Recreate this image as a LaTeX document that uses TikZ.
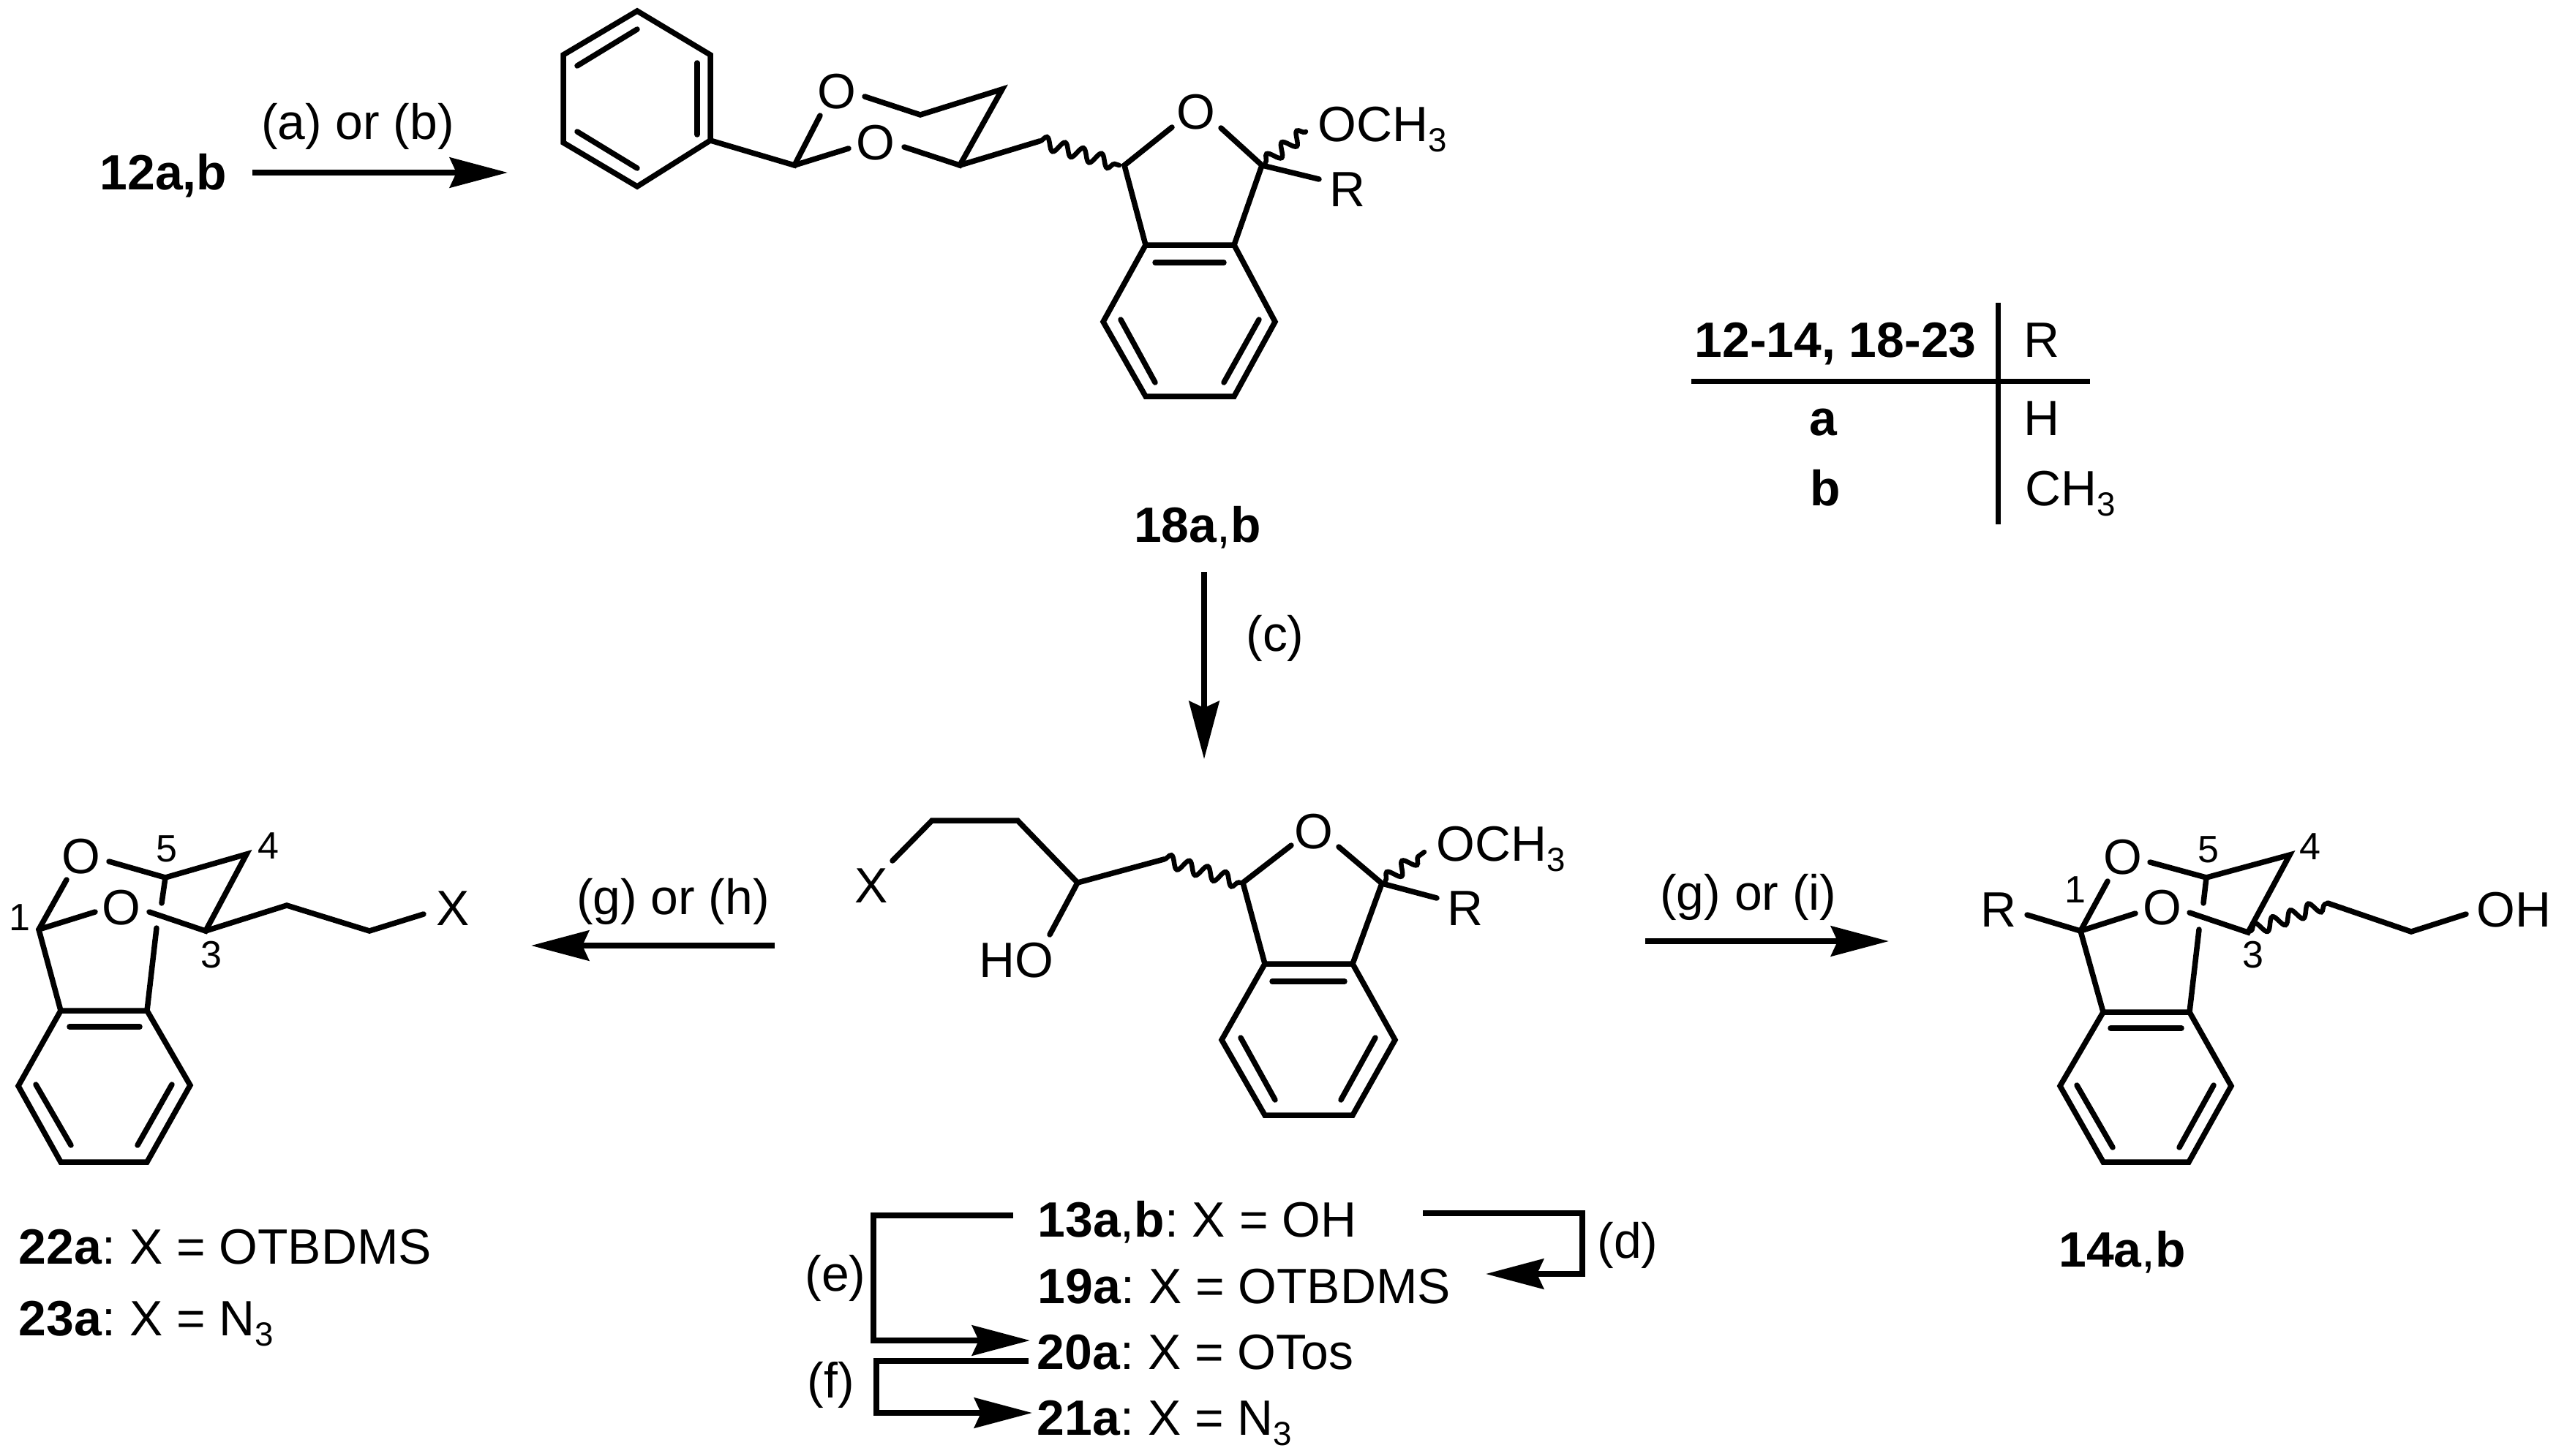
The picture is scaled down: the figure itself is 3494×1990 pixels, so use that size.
\documentclass[tikz,border=0pt]{standalone}
\usepackage{fontspec}
\setmainfont{Liberation Sans}
\usetikzlibrary{arrows.meta,decorations.pathmorphing}
\frenchspacing
\newcommand{\subthree}{\raisebox{-0.14cm}{\fontsize{13}{13}\selectfont 3}}
\tikzset{
    bond/.style={line width=0.075cm, line cap=round, line join=miter},
    wavy/.style={line width=0.065cm, line cap=round, decorate, decoration={snake, segment length=0.26cm, amplitude=0.085cm}},
    rxn/.style={line width=0.08cm, line join=miter, -{Stealth[length=0.79cm, width=0.41cm, inset=0.09cm]}},
    rule/.style={line width=0.07cm},
    txt/.style={anchor=base west},
    ctr/.style={anchor=base},
    num/.style={font=\fontsize{14.8}{16}\selectfont}
}
\begin{document}
\begin{tikzpicture}[x=0.01cm, y=-0.01cm, every node/.style={inner sep=0pt, font=\fontsize{19.3}{23}\selectfont}]
    \useasboundingbox (0, 0) rectangle (3494, 1990);

    \node[txt] (start) at (136, 259) {\textbf{12a,b}};
    \coordinate (abS) at (345, 236);
    \coordinate (abE) at (694, 236);
    \draw[rxn] (abS) -- (abE);
    \node (abL) at (489, 173) {(a) or (b)};

    \draw[bond] (770, 75) -- (871, 15) -- (971, 75) -- (971, 192) -- (871, 255) -- (770, 195) -- cycle;
    \draw[bond] (789, 90) -- (871, 40);
    \draw[bond] (953, 86) -- (953, 184);
    \draw[bond] (789, 180) -- (871, 230);
    \node (oTa) at (1144, 125) {O};
    \node (oTb) at (1197, 195) {O};
    \draw[bond] (971, 192) -- (1086, 226) -- (1121, 158);
    \draw[bond] (1086, 226) -- (1160, 203);
    \draw[bond] (1182, 132) -- (1258, 157) -- (1370, 122) -- (1312, 226) -- (1236, 201);
    \draw[bond] (1312, 226) -- (1421, 193);
    \draw[wavy] (1421, 193) -- (1530, 226);
    \node (oTc) at (1635, 153) {O};
    \draw[bond] (1602, 174) -- (1537, 226) -- (1566, 335);
    \draw[bond] (1669, 175) -- (1725, 226) -- (1687, 335);
    \draw[bond] (1566, 335) -- (1687, 335) -- (1743, 440) -- (1687, 542) -- (1566, 542) -- (1508, 440) -- cycle;
    \draw[bond] (1579, 359) -- (1673, 359);
    \draw[bond] (1532, 437) -- (1579, 523);
    \draw[bond] (1721, 437) -- (1673, 523);
    \draw[wavy] (1730, 222) -- (1785, 180);
    \draw[bond] (1725, 226) -- (1803, 245);
    \node[txt] (topMe) at (1801, 193) {OCH\subthree};
    \node[txt] (topR) at (1817, 282) {R};
    \node[ctr] (cpdEight) at (1637, 741) {\textbf{18a},\textbf{b}};

    \coordinate (cS) at (1646, 782);
    \coordinate (cE) at (1646, 1038);
    \draw[rxn] (cS) -- (cE);
    \node (cL) at (1743, 873) {(c)};

    \node[txt] (tabH) at (2316, 488) {\textbf{12-14, 18-23}};
    \node[txt] (tabR) at (2766, 488) {R};
    \node[ctr] (tabA) at (2493, 595) {\textbf{a}};
    \node[txt] (tabAr) at (2766, 595) {H};
    \node[ctr] (tabB) at (2495, 691) {\textbf{b}};
    \node[txt] (tabBr) at (2768, 691) {CH\subthree};
    \coordinate (tabVa) at (2731, 414);
    \coordinate (tabVb) at (2731, 717);
    \coordinate (tabHa) at (2312, 521);
    \coordinate (tabHb) at (2857, 521);
    \draw[rule] (tabVa) -- (tabVb);
    \draw[rule] (tabHa) -- (tabHb);

    \node (xMid) at (1191, 1211) {X};
    \draw[bond] (1220, 1177) -- (1274, 1122) -- (1391, 1122) -- (1473, 1207) -- (1435, 1278);
    \node[txt] (hoMid) at (1338, 1336) {HO};
    \draw[bond] (1473, 1207) -- (1591, 1175);
    \draw[wavy] (1591, 1175) -- (1695, 1207);
    \node (oMid) at (1796, 1137) {O};
    \draw[bond] (1765, 1156) -- (1699, 1207) -- (1729, 1318);
    \draw[bond] (1830, 1158) -- (1889, 1208) -- (1849, 1318);
    \draw[bond] (1729, 1318) -- (1849, 1318) -- (1907, 1422) -- (1849, 1525) -- (1729, 1525) -- (1670, 1422) -- cycle;
    \draw[bond] (1739, 1342) -- (1838, 1342);
    \draw[bond] (1696, 1419) -- (1743, 1504);
    \draw[bond] (1880, 1419) -- (1833, 1504);
    \draw[wavy] (1894, 1204) -- (1947, 1165);
    \draw[bond] (1889, 1208) -- (1964, 1228);
    \node[txt] (midMe) at (1963, 1177) {OCH\subthree};
    \node[txt] (midR) at (1978, 1265) {R};

    \coordinate (ghS) at (1059, 1293);
    \coordinate (ghE) at (726, 1293);
    \draw[rxn] (ghS) -- (ghE);
    \node (ghL) at (920, 1233) {(g) or (h)};
    \coordinate (giS) at (2249, 1287);
    \coordinate (giE) at (2582, 1287);
    \draw[rxn] (giS) -- (giE);
    \node (giL) at (2390, 1227) {(g) or (i)};

    \node (oLa) at (111, 1171) {O};
    \node (oLb) at (166, 1241) {O};
    \node[num] (nLa) at (27, 1255) {1};
    \node[num] (nLe) at (228, 1161) {5};
    \node[num] (nLd) at (367, 1157) {4};
    \node[num] (nLc) at (289, 1306) {3};
    \draw[bond] (91, 1203) -- (53, 1271) -- (83, 1382);
    \draw[bond] (53, 1271) -- (130, 1247);
    \draw[bond] (149, 1178) -- (226, 1200) -- (337, 1168) -- (281, 1273) -- (204, 1247);
    \draw[bond] (226, 1200) -- (221, 1235);
    \draw[bond] (281, 1273) -- (392, 1238) -- (505, 1273) -- (579, 1250);
    \draw[bond] (214, 1269) -- (201, 1382);
    \node (xLeft) at (619, 1242) {X};
    \draw[bond] (83, 1382) -- (201, 1382) -- (260, 1484) -- (201, 1589) -- (83, 1589) -- (25, 1485) -- cycle;
    \draw[bond] (95, 1404) -- (191, 1404);
    \draw[bond] (49, 1483) -- (97, 1566);
    \draw[bond] (235, 1483) -- (188, 1566);
    \node[txt] (cpdTwoTwo) at (25, 1728) {\textbf{22a}: X = OTBDMS};
    \node[txt] (cpdTwoThree) at (25, 1826) {\textbf{23a}: X = N\subthree};

    \node[txt] (rRight) at (2707, 1267) {R};
    \node (oRa) at (2902, 1172) {O};
    \node (oRb) at (2956, 1241) {O};
    \node[num] (nRa) at (2837, 1217) {1};
    \node[num] (nRe) at (3019, 1162) {5};
    \node[num] (nRd) at (3158, 1158) {4};
    \node[num] (nRc) at (3080, 1306) {3};
    \draw[bond] (2771, 1251) -- (2844, 1273) -- (2919, 1249);
    \draw[bond] (2881, 1205) -- (2844, 1273) -- (2875, 1384);
    \draw[bond] (2939, 1179) -- (3016, 1200) -- (3130, 1169) -- (3073, 1275) -- (2993, 1248);
    \draw[bond] (3016, 1200) -- (3012, 1235);
    \draw[bond] (3006, 1271) -- (2993, 1384);
    \draw[wavy] (3077, 1273) -- (3182, 1235);
    \draw[bond] (3182, 1235) -- (3296, 1274) -- (3371, 1250);
    \node[txt] (ohRight) at (3385, 1267) {OH};
    \draw[bond] (2875, 1384) -- (2993, 1384) -- (3050, 1485) -- (2992, 1589) -- (2875, 1589) -- (2816, 1485) -- cycle;
    \draw[bond] (2885, 1406) -- (2982, 1406);
    \draw[bond] (2839, 1484) -- (2888, 1569);
    \draw[bond] (3026, 1484) -- (2979, 1569);
    \node[ctr] (cpdOneFour) at (2901, 1732) {\textbf{14a},\textbf{b}};

    \node[txt] (cpdOneThree) at (1418, 1691) {\textbf{13a},\textbf{b}: X = OH};
    \node[txt] (cpdOneNine) at (1418, 1782) {\textbf{19a}: X = OTBDMS};
    \node[txt] (cpdTwoZero) at (1417, 1872) {\textbf{20a}: X = OTos};
    \node[txt] (cpdTwoOne) at (1417, 1962) {\textbf{21a}: X = N\subthree};
    \coordinate (dS) at (1945, 1659);
    \coordinate (dA) at (2163, 1659);
    \coordinate (dB) at (2163, 1742);
    \coordinate (dE) at (2031, 1742);
    \draw[rxn] (dS) -- (dA) -- (dB) -- (dE);
    \node (dL) at (2225, 1703) {(d)};
    \coordinate (eS) at (1385, 1662);
    \coordinate (eA) at (1194, 1662);
    \coordinate (eB) at (1194, 1833);
    \coordinate (eE) at (1408, 1833);
    \draw[rxn] (eS) -- (eA) -- (eB) -- (eE);
    \node (eL) at (1142, 1748) {(e)};
    \coordinate (fS) at (1406, 1861);
    \coordinate (fA) at (1198, 1861);
    \coordinate (fB) at (1198, 1932);
    \coordinate (fE) at (1411, 1932);
    \draw[rxn] (fS) -- (fA) -- (fB) -- (fE);
    \node (fL) at (1136, 1894) {(f)};
\end{tikzpicture}
\end{document}
